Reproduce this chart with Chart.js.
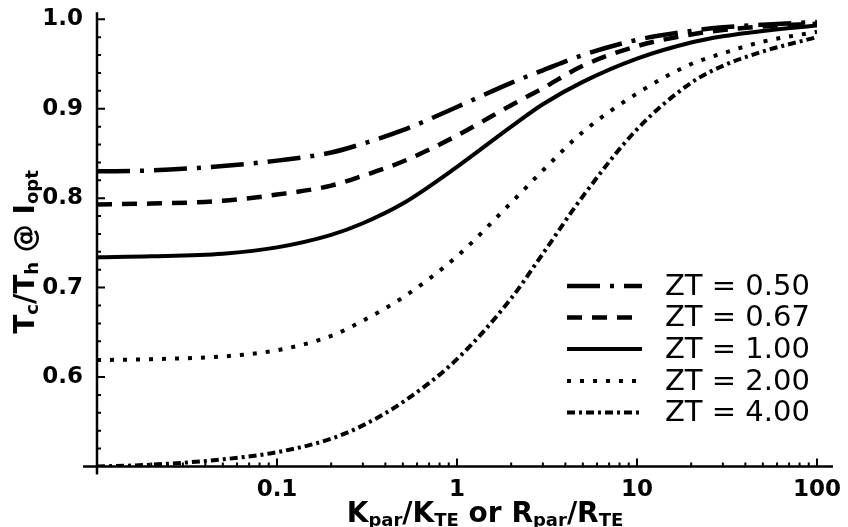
<!DOCTYPE html>
<html>
<head>
<meta charset="utf-8">
<script src="https://cdn.jsdelivr.net/npm/chart.js@4.4.1/dist/chart.umd.min.js"></script>
<style>
  html, body { margin: 0; padding: 0; background: #fff; }
</style>
</head>
<body>
<canvas id="chart" width="848" height="527"></canvas>
<script>
// Kpar/KTE (or Rpar/RTE) sample points, log spaced
const X_VALUES = [0.01, 0.02, 0.05, 0.1, 0.2, 0.3, 0.5, 1, 2, 3, 5, 10, 20, 30, 50, 100];

// Tc/Th at optimum current, one series per ZT
const ZT_050 = [0.830, 0.831, 0.836, 0.842, 0.851, 0.861, 0.876, 0.902, 0.929, 0.943, 0.960, 0.977, 0.987, 0.991, 0.994, 0.997];
const ZT_067 = [0.793, 0.794, 0.797, 0.804, 0.814, 0.825, 0.841, 0.870, 0.904, 0.923, 0.948, 0.970, 0.983, 0.988, 0.992, 0.995];
const ZT_100 = [0.734, 0.735, 0.738, 0.745, 0.759, 0.772, 0.794, 0.835, 0.880, 0.905, 0.930, 0.956, 0.974, 0.981, 0.987, 0.993];
const ZT_200 = [0.619, 0.620, 0.623, 0.630, 0.646, 0.663, 0.689, 0.735, 0.795, 0.831, 0.874, 0.917, 0.950, 0.962, 0.975, 0.986];
const ZT_400 = [0.500, 0.502, 0.508, 0.516, 0.531, 0.546, 0.572, 0.620, 0.688, 0.738, 0.802, 0.877, 0.929, 0.948, 0.964, 0.980];

const SERIES_LABELS = ['ZT = 0.50', 'ZT = 0.67', 'ZT = 1.00', 'ZT = 2.00', 'ZT = 4.00'];
const X_TICKS = [0.1, 1, 10, 100];
const Y_TICKS = [0.6, 0.7, 0.8, 0.9, 1.0];

const FONT = "'DejaVu Sans', sans-serif";

const STYLES = [
  { dash: [33, 10, 4, 10], width: 4.5 },
  { dash: [15, 10], width: 4.5 },
  { dash: [], width: 4 },
  { dash: [4, 9], width: 4 },
  { dash: [8, 4, 3, 4], width: 4 },
];

function buildDatasets() {
  return [ZT_050, ZT_067, ZT_100, ZT_200, ZT_400].map((ys, i) => ({
    label: SERIES_LABELS[i],
    data: ys.map((y, j) => ({ x: X_VALUES[j], y })),
    borderColor: '#000',
    borderWidth: STYLES[i].width,
    borderDash: STYLES[i].dash,
    borderCapStyle: 'butt',
    pointRadius: 0,
    cubicInterpolationMode: 'monotone',
    fill: false,
  }));
}

// text made of plain and subscript runs, drawn centred on (cx, baseline)
function drawRuns(ctx, runs, cx, base, size, subSize) {
  const fontOf = r => `bold ${r.sub ? subSize : size}px ${FONT}`;
  let total = 0;
  runs.forEach(r => { ctx.font = fontOf(r); total += ctx.measureText(r.t).width; });
  let x = cx - total / 2;
  ctx.textAlign = 'left';
  ctx.textBaseline = 'alphabetic';
  runs.forEach(r => {
    ctx.font = fontOf(r);
    ctx.fillText(r.t, x, base + (r.sub ? 4 : 0));
    x += ctx.measureText(r.t).width;
  });
}

const axesPlugin = {
  id: 'axes',
  afterDatasetsDraw(chart) {
    const { ctx, scales: { x, y } } = chart;
    const left = x.getPixelForValue(0.01), right = x.getPixelForValue(100);
    const bottom = y.getPixelForValue(0.5), top = y.getPixelForValue(1.0);
    ctx.save();
    ctx.strokeStyle = '#000';
    ctx.lineCap = 'butt';
    ctx.setLineDash([]);

    ctx.lineWidth = 2.5;
    ctx.beginPath();
    ctx.moveTo(left - 14, bottom); ctx.lineTo(right + 16, bottom);
    ctx.moveTo(left, top - 7); ctx.lineTo(left, bottom + 8);
    ctx.stroke();

    ctx.lineWidth = 2;
    ctx.beginPath();
    for (let e = -2; e <= 2; e++) {
      for (let m = 1; m <= 9; m++) {
        const v = m * Math.pow(10, e);
        if (v > 100.0001 || (e === -2 && m === 1)) continue;
        const px = x.getPixelForValue(v);
        const len = m === 1 ? 8 : 4;
        ctx.moveTo(px, bottom); ctx.lineTo(px, bottom - len);
      }
    }
    for (let i = 1; i <= 25; i++) {
      const py = y.getPixelForValue(0.5 + i * 0.02);
      const len = i % 5 === 0 ? 8 : 4;
      ctx.moveTo(left, py); ctx.lineTo(left + len, py);
    }
    ctx.stroke();

    // axis titles
    ctx.fillStyle = '#000';
    drawRuns(ctx, [
      { t: 'K' }, { t: 'par', sub: true }, { t: '/K' }, { t: 'TE', sub: true },
      { t: ' or R' }, { t: 'par', sub: true }, { t: '/R' }, { t: 'TE', sub: true },
    ], 485, 522, 28, 18);

    ctx.save();
    ctx.translate(34, 252);
    ctx.rotate(-Math.PI / 2);
    drawRuns(ctx, [
      { t: 'T' }, { t: 'c', sub: true }, { t: '/T' }, { t: 'h', sub: true },
      { t: ' @ I' }, { t: 'opt', sub: true },
    ], 0, 0, 28, 18);
    ctx.restore();
    ctx.restore();
  },
};

const legendPlugin = {
  id: 'lineLegend',
  afterDraw(chart) {
    const ctx = chart.ctx;
    const rowY = [286, 317.5, 349, 381, 412.5];
    ctx.save();
    chart.data.datasets.forEach((ds, i) => {
      ctx.strokeStyle = '#000';
      ctx.lineWidth = ds.borderWidth;
      ctx.lineCap = 'butt';
      ctx.setLineDash(ds.borderDash);
      ctx.beginPath();
      ctx.moveTo(567, rowY[i]);
      ctx.lineTo(642, rowY[i]);
      ctx.stroke();
      ctx.setLineDash([]);
      ctx.fillStyle = '#000';
      ctx.font = `29px ${FONT}`;
      ctx.textAlign = 'left';
      ctx.textBaseline = 'middle';
      ctx.fillText(ds.label, 665, rowY[i] + 1);
    });
    ctx.restore();
  },
};

const tickFont = { family: FONT, size: 23, weight: 'bold' };

// fixed scale boxes so the plot area sits where the axes are drawn
function fitX(s) {
  s.height = 60.5;
  s.paddingLeft = 0; s.paddingRight = 0;
}
function fitY(s) {
  s.width = 97;
  s.paddingTop = 0; s.paddingBottom = 0;
}

new Chart(document.getElementById('chart').getContext('2d'), {
  type: 'line',
  data: { datasets: buildDatasets() },
  plugins: [axesPlugin, legendPlugin],
  options: {
    responsive: false,
    animation: false,
    layout: { padding: { top: 19.3, right: 31, bottom: 0, left: 0 } },
    plugins: { legend: { display: false }, tooltip: { enabled: false } },
    scales: {
      x: {
        type: 'logarithmic',
        min: 0.01,
        max: 100,
        afterFit: fitX,
        afterBuildTicks: s => { s.ticks = X_TICKS.map(v => ({ value: v })); },
        grid: { display: false, drawTicks: false },
        border: { display: false },
        ticks: { padding: 10, maxRotation: 0, autoSkip: false, color: '#000', font: tickFont,
                 callback: v => String(v) },
      },
      y: {
        min: 0.5,
        max: 1.0,
        afterFit: fitY,
        afterBuildTicks: s => { s.ticks = Y_TICKS.map(v => ({ value: v })); },
        grid: { display: false, drawTicks: false },
        border: { display: false },
        ticks: { padding: 14, color: '#000', font: tickFont, callback: v => v.toFixed(1) },
      },
    },
  },
});
</script>
</body>
</html>
